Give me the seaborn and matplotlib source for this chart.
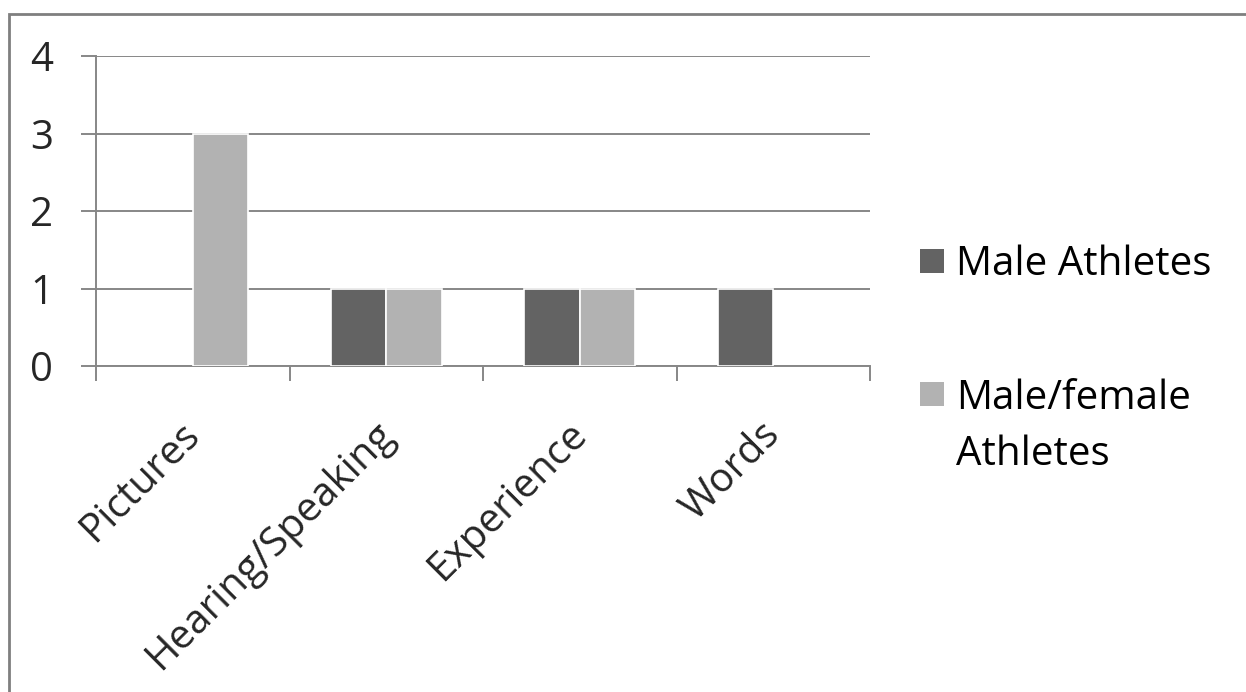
import matplotlib
matplotlib.use("Agg")
import matplotlib.pyplot as plt
from matplotlib.patches import Rectangle
from matplotlib.transforms import ScaledTranslation
import seaborn as sns
import pandas as pd

categories = ["Pictures", "Hearing/Speaking", "Experience", "Words"]
series_names = ["Male Athletes", "Male/female Athletes"]
male_athletes = [0, 1, 1, 1]
mixed_athletes = [3, 1, 1, 0]
y_ticks = [0, 1, 2, 3, 4]
legend_labels = ["Male Athletes", "Male/female\nAthletes"]

colors = ["#636363", "#b2b2b2"]
grid_color = "#878787"
FS = 29

df = pd.DataFrame({
    "category": categories * 2,
    "series": [series_names[0]] * 4 + [series_names[1]] * 4,
    "value": male_athletes + mixed_athletes,
})

sns.set_theme(style="white")
plt.rcParams["font.family"] = ["Open Sans", "DejaVu Sans"]

W, H = 1246, 692
fig = plt.figure(figsize=(W / 100, H / 100), dpi=100)
ax = fig.add_axes([96 / W, 1 - 366 / H, (870 - 96) / W, (366 - 56) / H])

sns.barplot(data=df, x="category", y="value", hue="series", order=categories,
            hue_order=series_names, palette=colors, width=0.575, gap=0.0,
            edgecolor="white", linewidth=1.2, saturation=1, ax=ax,
            legend=False, zorder=3)

# empty bars should leave no trace on the baseline
for bar in ax.patches:
    if bar.get_height() == 0:
        bar.set_visible(False)

ax.set_xlim(-0.5, 3.5)
ax.set_ylim(0, 4)
ax.set_yticks(y_ticks)
ax.set_yticklabels([str(t) for t in y_ticks], fontsize=FS)
ax.yaxis.grid(True, color=grid_color, linewidth=1.4, zorder=0)
ax.set_axisbelow(True)
ax.set_xlabel("")
ax.set_ylabel("")

for side in ["top", "right"]:
    ax.spines[side].set_visible(False)
for side in ["left", "bottom"]:
    ax.spines[side].set_color(grid_color)
    ax.spines[side].set_linewidth(1.4)

ax.tick_params(axis="y", which="major", left=True, length=11, width=1.4,
               color=grid_color, pad=20, labelsize=FS)
# category labels at centres, boundary ticks between categories
ax.set_xticks(range(len(categories)))
ax.set_xticklabels(categories, rotation=45, ha="right", rotation_mode="anchor",
                   fontsize=FS)
ax.set_xticks([i - 0.5 for i in range(len(categories) + 1)], minor=True)
ax.tick_params(axis="x", which="major", bottom=False, length=0, pad=35)
ax.tick_params(axis="x", which="minor", bottom=True, length=11, width=1.4,
               color=grid_color)
shift = ScaledTranslation(-13 / 100, 0, fig.dpi_scale_trans)
for lbl in ax.get_xticklabels():
    lbl.set_transform(lbl.get_transform() + shift)

# legend: swatches and labels on the right
sw = 24
swatch_top = [249, 382]
text_baseline = [275, 465]  # baseline of each label's last line
for color, label, top, base in zip(colors, legend_labels, swatch_top, text_baseline):
    fig.patches.append(Rectangle((920 / W, 1 - (top + sw) / H), sw / W, sw / H,
                                 transform=fig.transFigure, facecolor=color,
                                 edgecolor="none"))
    fig.text(956 / W, 1 - base / H, label, fontsize=FS, va="baseline", ha="left",
             linespacing=1.5, color="black")

fig.patches.append(Rectangle((8.5 / W, -0.05), 1.2, 1 - 13.5 / H + 0.05,
                             transform=fig.transFigure, fill=False,
                             edgecolor="#7f7f7f", linewidth=2, zorder=0))

fig.savefig("out.png", dpi=100, facecolor="white")
